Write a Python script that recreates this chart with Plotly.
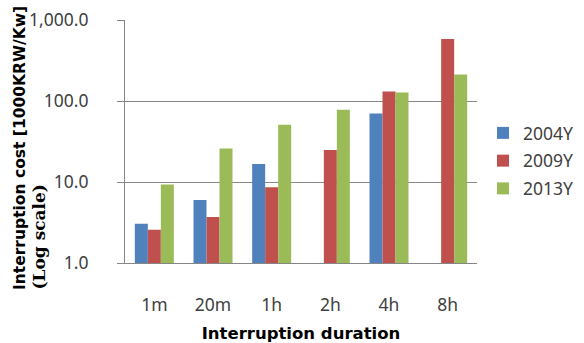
import plotly.graph_objects as go

categories = ["1m", "20m", "1h", "2h", "4h", "8h"]
series_names = ["2004Y", "2009Y", "2013Y"]
values_2004 = [3.05, 6.0, 16.7, None, 70, None]
values_2009 = [2.57, 3.7, 8.6, 24.8, 131, 582]
values_2013 = [9.3, 26, 51, 78, 127, 213]
colors = ["#4F81BD", "#C0504D", "#9BBB59"]
y_tickvals = [1, 10, 100, 1000]
y_ticktext = ["1.0", "10.0", "100.0", "1,000.0"]

fig = go.Figure()
for name, vals, col in zip(series_names, [values_2004, values_2009, values_2013], colors):
    fig.add_trace(go.Bar(x=categories, y=vals, name=name, legendgroup=name,
                         marker=dict(color=col, line=dict(width=0))))

FONT = "Noto Sans"
TITLE_FONT = "DejaVu Sans"
fig.update_layout(
    width=584, height=343,
    margin=dict(l=125, r=107, t=20, b=80, autoexpand=False),
    paper_bgcolor="white", plot_bgcolor="white",
    barmode="group", bargap=0.335, bargroupgap=0,
    font=dict(family=FONT, size=17.5, color="#404040"),
    legend=dict(x=1.017, y=0.609, xanchor="left", yanchor="top",
                font=dict(size=17.5, color="#404040"), itemwidth=30,
                tracegroupgap=2, bgcolor="rgba(0,0,0,0)"),
    xaxis=dict(showline=True, linecolor="#868686", linewidth=1, showgrid=False,
               ticks="", ticklabelstandoff=26, automargin=False,
               tickfont=dict(size=17.5, color="#404040"),
               title=dict(text="<b>Interruption duration</b>", standoff=12,
                          font=dict(family=TITLE_FONT, size=16.5, color="#000000"))),
    yaxis=dict(type="log", range=[0, 3], tickvals=y_tickvals, ticktext=y_ticktext,
               showline=True, linecolor="#868686", linewidth=1, automargin=False,
               showgrid=True, gridcolor="#868686", gridwidth=1,
               ticks="outside", ticklen=7, tickcolor="#868686",
               ticklabelstandoff=25,
               tickfont=dict(size=17.5, color="#404040"), zeroline=False),
    annotations=[
        dict(text="<b>Interruption cost [1000KRW/Kw]</b>", textangle=-90,
             xref="paper", yref="paper", x=(20 - 125) / 352, y=(263 - 292) / 243,
             xanchor="center", yanchor="bottom", showarrow=False,
             font=dict(family=TITLE_FONT, size=15.5, color="#000000")),
        dict(text="<b>(Log scale)</b>", textangle=-90,
             xref="paper", yref="paper", x=(38 - 125) / 352, y=(263 - 292) / 243,
             xanchor="center", yanchor="bottom", showarrow=False,
             font=dict(family="DejaVu Serif", size=17, color="#000000")),
    ],
)

fig.write_html("out.html", config={"displayModeBar": False},
               post_script="document.body.style.margin='0';document.body.style.padding='0';")
